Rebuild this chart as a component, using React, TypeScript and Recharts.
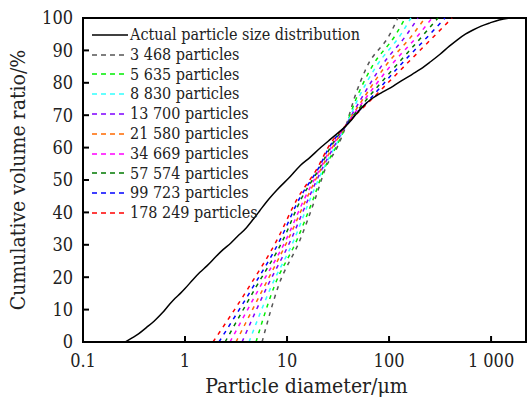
import React from 'react';
import { LineChart, Line, XAxis, YAxis, Legend, ReferenceArea } from 'recharts';

const SERIF = '"DejaVu Serif Condensed", "DejaVu Serif", serif';

// Actual particle size distribution (diameter in µm, cumulative %)
const ACTUAL_D = [0.26, 0.3, 0.35, 0.42, 0.5, 0.6, 0.7, 0.8, 0.9, 1.0, 1.2, 1.4, 1.64, 2.0, 2.36, 2.8, 3.24, 4.0, 4.64, 5.4, 6.2, 8.0, 10.7, 13.5, 16.8, 21, 26, 31, 37, 43, 48.6, 56, 65, 75, 87, 110, 137, 170, 205, 255, 316, 390, 464, 560, 665, 800, 977, 1200, 1535];
const ACTUAL_V = [0, 1.2, 2.5, 4.5, 6.5, 9, 11.5, 13.5, 15, 16.5, 19.3, 21.5, 23.5, 26.3, 28.5, 30.5, 32.5, 35.3, 37.8, 40.5, 43, 47, 51, 54.5, 57, 59.8, 62.3, 64.3, 66.4, 68.6, 70.7, 72.8, 74.7, 76, 77.2, 79, 80.9, 82.7, 84.3, 86.5, 88.8, 91.3, 93.2, 95, 96.3, 97.5, 98.5, 99.4, 100];

// Cumulative levels at which the simulated curves were read
const LEVELS = [0, 17, 31.5, 44, 54, 60, 67, 75, 85, 95, 100];
// Diameters (µm) of each simulated curve at those levels
const D_3468 = [5.69, 8.17, 13.4, 18.8, 24.1, 30.9, 38, 45.4, 60.8, 102, 122];
const D_5635 = [4.96, 7.46, 12.5, 18.0, 23.6, 30.0, 38, 47.5, 68.1, 117, 144];
const D_8830 = [4.24, 6.97, 11.7, 16.8, 23.1, 29.2, 38, 49.6, 74.6, 131, 164];
const D_13700 = [3.62, 6.37, 10.9, 16.1, 22.5, 28.5, 38, 53.1, 83.5, 150, 192];
const D_21580 = [3.16, 5.95, 10.2, 15.4, 22.0, 27.8, 38, 55.6, 91.4, 172, 225];
const D_34669 = [2.76, 5.43, 9.77, 14.7, 21.5, 27.1, 38, 58.2, 102, 197, 264];
const D_57574 = [2.47, 4.97, 9.14, 13.7, 21.1, 26.5, 38, 60.8, 115, 220, 302];
const D_99723 = [2.15, 4.64, 8.54, 13.1, 20.6, 25.8, 38, 65.1, 125, 252, 354];
const D_178249 = [1.88, 4.24, 7.98, 12.5, 20.1, 25.2, 38, 68.1, 140, 289, 415];

const SERIES_D = [D_3468, D_5635, D_8830, D_13700, D_21580, D_34669, D_57574, D_99723, D_178249];
const SERIES_LABELS = ['3 468 particles', '5 635 particles', '8 830 particles', '13 700 particles', '21 580 particles', '34 669 particles', '57 574 particles', '99 723 particles', '178 249 particles'];
const SERIES_COLORS = ['#555555', '#00ee00', '#33ffff', '#7f00ff', '#ff6a00', '#ff00ff', '#007a00', '#0000ff', '#ff0000'];

const ACTUAL_LABEL = 'Actual particle size distribution';
const X_TICKS = [0.1, 1, 10, 100, 1000];
const X_TICK_LABELS = ['0.1', '1', '10', '100', '1 000'];
const Y_TICKS = [0, 10, 20, 30, 40, 50, 60, 70, 80, 90, 100];
const X_TITLE = 'Particle diameter/\u03bcm';
const Y_TITLE = 'Cumulative volume ratio/%';

const actualData = ACTUAL_D.map((d, i) => ({ d, v: ACTUAL_V[i] }));
const seriesData = SERIES_D.map((arr) => arr.map((d, i) => ({ d, v: LEVELS[i] })));

const fmtX = (v: number) => {
  const i = X_TICKS.indexOf(v);
  return i >= 0 ? X_TICK_LABELS[i] : String(v);
};

const XTitle = (props: any) => {
  const vb = props.viewBox || { x: 83, y: 342, width: 443, height: 57 };
  return (
    <text x={vb.x + vb.width / 2 + 2} y={vb.y + 51} textAnchor="middle" style={{ fontFamily: SERIF }} fontSize={21} fill="#222">
      {X_TITLE}
    </text>
  );
};

const YTitle = (props: any) => {
  const vb = props.viewBox || { x: 0, y: 18, width: 83, height: 324 };
  const cx = vb.x + 18;
  const cy = vb.y + vb.height / 2;
  return (
    <text x={cx} y={cy} transform={`rotate(-90 ${cx} ${cy})`} textAnchor="middle" dominantBaseline="central" style={{ fontFamily: SERIF }} fontSize={21} fill="#222">
      {Y_TITLE}
    </text>
  );
};

const renderLegend = () => {
  const items = [{ label: ACTUAL_LABEL, color: '#000', dash: undefined as string | undefined }].concat(
    SERIES_LABELS.map((label, i) => ({ label, color: SERIES_COLORS[i], dash: '5 4' }))
  );
  return (
    <div style={{ fontFamily: SERIF, fontSize: 16, color: '#222' }}>
      {items.map((it) => (
        <div key={it.label} style={{ display: 'flex', alignItems: 'center', height: 19.8, whiteSpace: 'nowrap' }}>
          <svg width={36} height={4} style={{ display: 'block' }}>
            <line x1={0} y1={2} x2={36} y2={2} stroke={it.color} strokeWidth={1.5} strokeDasharray={it.dash} />
          </svg>
          <span style={{ marginLeft: 2, lineHeight: '19.8px' }}>{it.label}</span>
        </div>
      ))}
    </div>
  );
};

export default function App() {
  return (
    <div style={{ position: 'absolute', left: 0, top: 0, width: 528, height: 399, background: '#fff' }}>
      <LineChart width={528} height={399} margin={{ top: 18, right: 2, bottom: 0, left: 0 }}>
        <XAxis
          dataKey="d"
          type="number"
          scale="log"
          domain={[0.1, 2200]}
          allowDataOverflow
          ticks={X_TICKS}
          interval={0}
          tickFormatter={fmtX}
          tickSize={-6}
          tickMargin={18}
          height={57}
          axisLine={{ stroke: '#000', strokeWidth: 2 }}
          tickLine={{ stroke: '#000', strokeWidth: 2 }}
          tick={{ fontSize: 18, style: { fontFamily: SERIF }, fill: '#222' }}
          label={<XTitle />}
        />
        <YAxis
          dataKey="v"
          type="number"
          domain={[0, 100]}
          ticks={Y_TICKS}
          interval={0}
          tickSize={-6}
          tickMargin={16}
          width={83}
          axisLine={{ stroke: '#000', strokeWidth: 2 }}
          tickLine={{ stroke: '#000', strokeWidth: 2 }}
          tick={{ fontSize: 18, style: { fontFamily: SERIF }, fill: '#222' }}
          label={<YTitle />}
        />
        <ReferenceArea x1={0.1} x2={2200} y1={0} y2={100} fill="none" fillOpacity={0} stroke="#000" strokeWidth={2} ifOverflow="visible" />
        {seriesData.map((data, i) => (
          <Line
            key={SERIES_LABELS[i]}
            data={data}
            dataKey="v"
            name={SERIES_LABELS[i]}
            type="monotone"
            stroke={SERIES_COLORS[i]}
            strokeWidth={1.5}
            strokeDasharray="4 5"
            dot={false}
            activeDot={false}
            isAnimationActive={false}
          />
        ))}
        <Line
          data={actualData}
          dataKey="v"
          name={ACTUAL_LABEL}
          type="monotone"
          stroke="#000"
          strokeWidth={1.5}
          dot={false}
          activeDot={false}
          isAnimationActive={false}
        />
        <Legend
          content={renderLegend}
          layout="vertical"
          verticalAlign="middle"
          align="center"
          wrapperStyle={{ position: 'absolute', left: 92, top: 25, width: 'auto', height: 'auto' }}
        />
      </LineChart>
    </div>
  );
}
